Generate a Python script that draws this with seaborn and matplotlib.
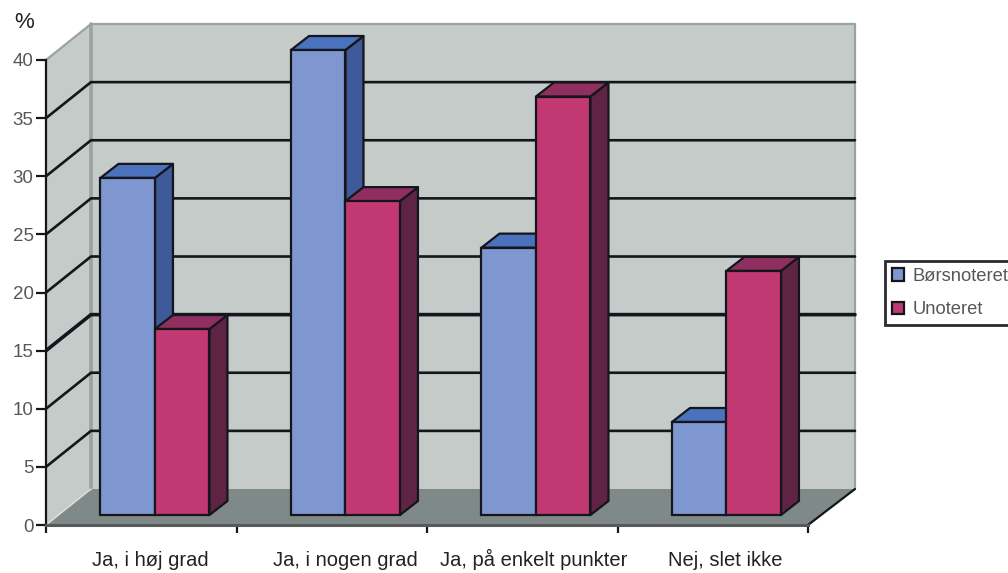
import matplotlib
matplotlib.use("Agg")
import matplotlib.pyplot as plt
from matplotlib.patches import Polygon
from matplotlib.transforms import ScaledTranslation
import pandas as pd
import seaborn as sns

# Survey shares in percent
categories = ["Ja, i høj grad", "Ja, i nogen grad", "Ja, på enkelt punkter", "Nej, slet ikke"]
boersnoteret = [29, 40, 23, 8]
unoteret = [16, 27, 36, 21]
series_names = ["Børsnoteret", "Unoteret"]
y_ticks = [0, 5, 10, 15, 20, 25, 30, 35, 40]

FRONT = {"Børsnoteret": "#7f97d1", "Unoteret": "#c23873"}
TOP = {"Børsnoteret": "#4a72bd", "Unoteret": "#8f2f60"}
SIDE = {"Børsnoteret": "#3f5a98", "Unoteret": "#5f2444"}
WALL = "#c4cbc9"
FLOOR = "#7f8987"
WALL_EDGE = "#9ba3a1"
INK = "#15151c"

W, H = 1008, 573
LEFT, RIGHT, TOP_PX, BOTTOM_PX = 46, 857, 22, 525
GROUP_PX = 190.5
UNIT_PX = 11.625

sns.set_theme(style="white")
plt.rcParams["font.family"] = ["Liberation Sans", "DejaVu Sans"]

fig = plt.figure(figsize=(W / 100, H / 100), dpi=100)
ax = fig.add_axes([LEFT / W, 1 - BOTTOM_PX / H, (RIGHT - LEFT) / W, (BOTTOM_PX - TOP_PX) / H])
ax.patch.set_alpha(0)

df = pd.DataFrame({
    "kategori": categories * 2,
    "andel": boersnoteret + unoteret,
    "gruppe": [series_names[0]] * 4 + [series_names[1]] * 4,
})

# Oblique projection offsets, in data units
wall_dx, wall_dy = 45 / GROUP_PX, 36 / UNIT_PX
wall_right_dx = 47 / GROUP_PX
bar_dx, bar_dy = 18 / GROUP_PX, 14 / UNIT_PX
bar_lift = 10 / UNIT_PX

sns.barplot(
    data=df, x="kategori", y="andel", hue="gruppe", order=categories,
    hue_order=series_names, palette=FRONT, width=0.572, gap=0, dodge=True,
    edgecolor=INK, linewidth=1.6, zorder=6, ax=ax,
    saturation=1, errorbar=None,
)

x0 = -0.572
x1 = x0 + 4
y_top = max(y_ticks)
ax.set_xlim(x0, x0 + (RIGHT - LEFT) / GROUP_PX)
ax.set_ylim(0, (BOTTOM_PX - TOP_PX) / UNIT_PX)

# Box walls and floor
ax.add_patch(Polygon([(x0 + wall_dx, wall_dy), (x1 + wall_right_dx, wall_dy),
                      (x1 + wall_right_dx, y_top + wall_dy), (x0 + wall_dx, y_top + wall_dy)],
                     fc=WALL, ec="none", zorder=0))
ax.add_patch(Polygon([(x0, 0), (x0 + wall_dx, wall_dy),
                      (x0 + wall_dx, y_top + wall_dy), (x0, y_top)],
                     fc=WALL, ec="none", zorder=0))
ax.add_patch(Polygon([(x0, 0), (x1, 0), (x1 + wall_right_dx, wall_dy), (x0 + wall_dx, wall_dy)],
                     fc=FLOOR, ec="none", zorder=1))

# Wall outlines
ax.plot([x0, x0 + wall_dx, x1 + wall_right_dx, x1 + wall_right_dx],
        [y_top, y_top + wall_dy, y_top + wall_dy, wall_dy],
        color=WALL_EDGE, lw=1.6, zorder=1, clip_on=False)
ax.plot([x0 + wall_dx] * 2, [wall_dy, y_top + wall_dy], color=WALL_EDGE, lw=2.6, zorder=1)
ax.plot([x0, x0 + wall_dx], [0, wall_dy], color="#dfe3e2", lw=1.0, zorder=1)
ax.plot([x1, x1 + wall_right_dx], [0, wall_dy], color=INK, lw=1.6, zorder=2)

# Gridlines run along the side wall and across the back wall
for v in y_ticks[1:-1]:
    lw = 2.6 if v == 15 else 1.9
    ax.plot([x0, x0 + wall_dx, x1 + wall_right_dx], [v, v + wall_dy, v + wall_dy],
            color=INK, lw=lw, zorder=2, solid_joinstyle="miter")

# Raise the bars off the box front, then build side and top faces from them
for level, (name, container) in enumerate(zip(series_names, ax.containers)):
    for bar in container:
        bar.set_y(bar_lift)
        bx, bw = bar.get_x(), bar.get_width()
        base, top = bar.get_y(), bar.get_y() + bar.get_height()
        ax.add_patch(Polygon([(bx + bw, base), (bx + bw + bar_dx, base + bar_dy),
                              (bx + bw + bar_dx, top + bar_dy), (bx + bw, top)],
                             fc=SIDE[name], ec=INK, lw=1.6, zorder=3 + level, joinstyle="round"))
        ax.add_patch(Polygon([(bx, top), (bx + bw, top),
                              (bx + bw + bar_dx, top + bar_dy), (bx + bar_dx, top + bar_dy)],
                             fc=TOP[name], ec=INK, lw=1.6, zorder=3 + level, joinstyle="round"))

# Axes
for side in ["top", "right"]:
    ax.spines[side].set_visible(False)
ax.spines["left"].set_bounds(0, y_top)
ax.spines["left"].set_color(INK)
ax.spines["left"].set_linewidth(1.6)
ax.spines["left"].set_zorder(7)
ax.spines["bottom"].set_bounds(x0, x1)
ax.spines["bottom"].set_color("#55595a")
ax.spines["bottom"].set_linewidth(2.2)
ax.spines["bottom"].set_zorder(7)

ax.set_yticks(y_ticks)
ax.tick_params(axis="y", length=7, width=1.6, color=INK, labelsize=13.5,
               labelcolor="#55585a", pad=2, left=True)
ax.set_xticks(range(len(categories)), categories)
ax.set_xticks([x0 + k for k in range(len(categories) + 1)], minor=True)
ax.tick_params(axis="x", which="major", length=0, pad=29.5, labelsize=14.5, labelcolor="#222222")
ax.tick_params(axis="x", which="minor", length=6, width=1.6, color=INK, bottom=True)
ax.set_xlabel("")
ax.set_ylabel("")

# Category labels share a baseline and sit slightly left of their group centres
for label, nudge_pt in zip(ax.get_xticklabels(), [-3.6, 0, -1.4, -0.7]):
    label.set_verticalalignment("baseline")
    label.set_transform(label.get_transform() + ScaledTranslation(nudge_pt / 72, 0, fig.dpi_scale_trans))

fig.text(14 / W, 1 - 23 / H, "%", fontsize=16, color="#222222", va="center", ha="left")

# Legend box runs past the right edge of the figure
leg = ax.legend(
    loc="upper left", bbox_to_anchor=(885 / W, 1 - 261 / H), bbox_transform=fig.transFigure,
    frameon=True, fancybox=False, edgecolor="#2a2a30", facecolor="white", framealpha=1,
    fontsize=13.2, labelcolor="#55585a", handlelength=0.65, handleheight=0.65,
    handletextpad=0.45, labelspacing=0.9, borderpad=0.38, borderaxespad=0, title=None,
)
leg.get_frame().set_linewidth(2)
leg.set_zorder(10)
for handle in leg.get_patches():
    handle.set_edgecolor(INK)
    handle.set_linewidth(1.6)

fig.savefig("out.png", dpi=100)
